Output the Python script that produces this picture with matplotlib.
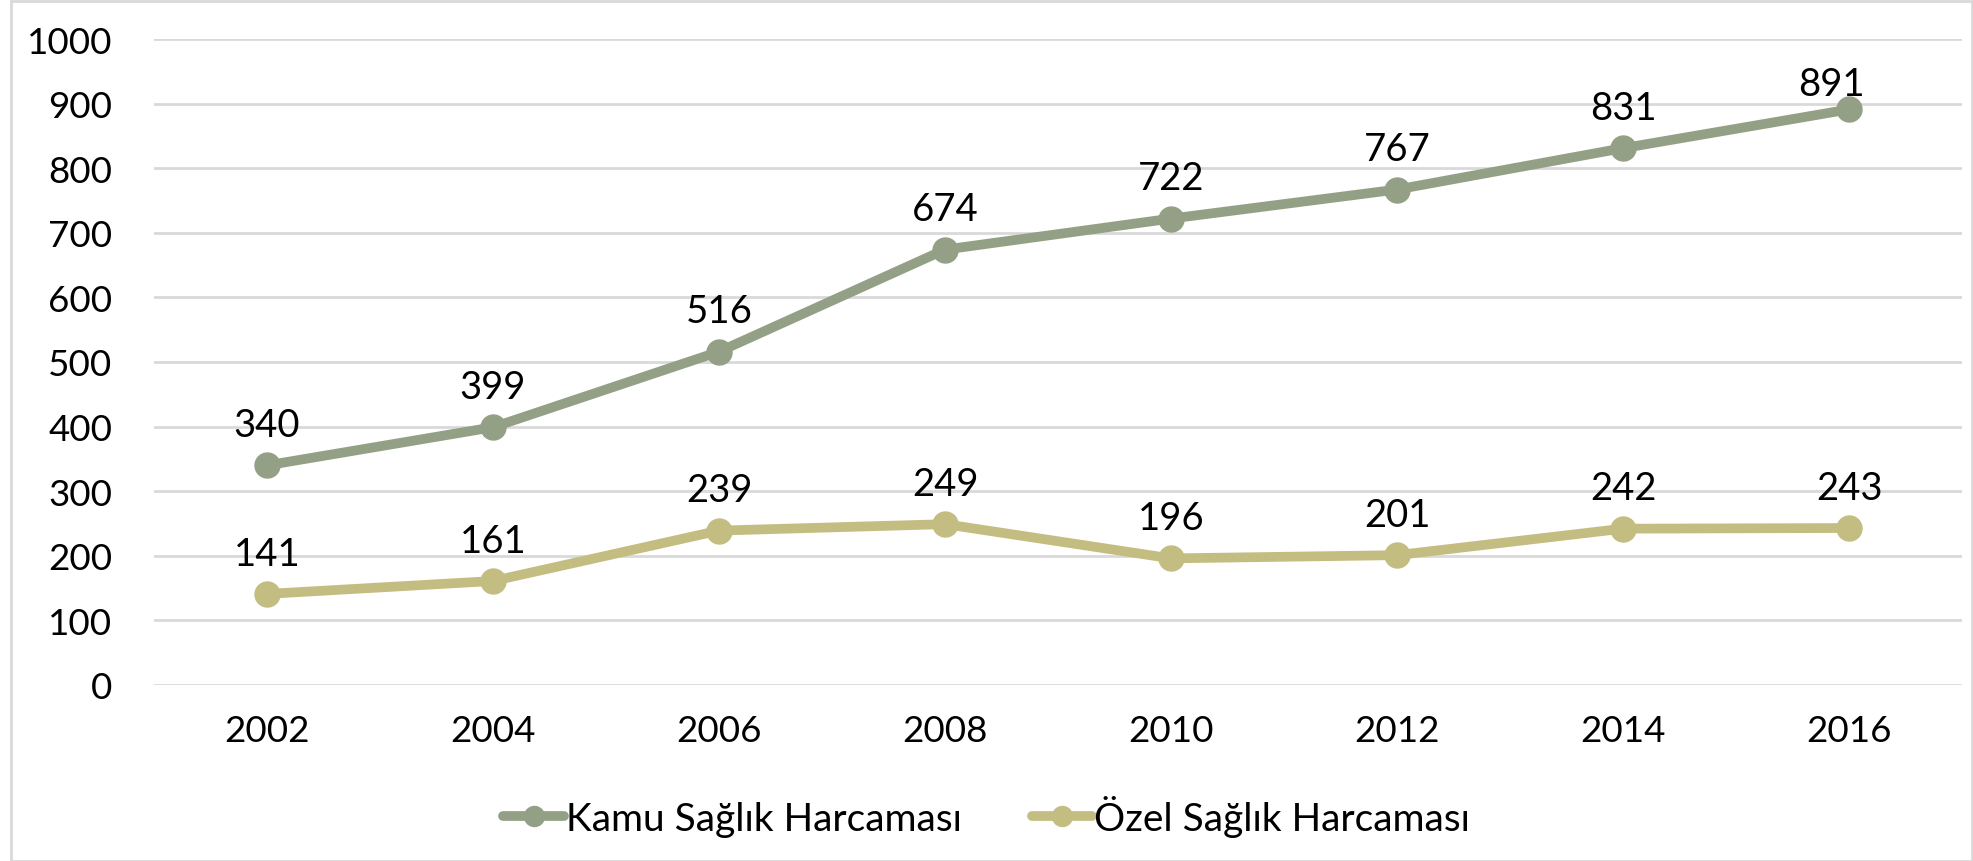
import matplotlib.pyplot as plt
from matplotlib.patches import Rectangle

years = ["2002", "2004", "2006", "2008", "2010", "2012", "2014", "2016"]
kamu = [340, 399, 516, 674, 722, 767, 831, 891]
ozel = [141, 161, 239, 249, 196, 201, 242, 243]
yticks = [0, 100, 200, 300, 400, 500, 600, 700, 800, 900, 1000]

KAMU_COLOR = "#94A086"
OZEL_COLOR = "#C4BD82"

plt.rcParams["font.family"] = ["Lato", "DejaVu Sans"]

fig = plt.figure(figsize=(19.73, 8.62), dpi=100)
ax = fig.add_axes([154 / 1973, 1 - 686 / 862, (1962 - 154) / 1973, (686 - 40) / 862])

x = list(range(len(years)))
ax.plot(x, kamu, "-o", color=KAMU_COLOR, lw=7, ms=18, label="Kamu Sağlık Harcaması",
        solid_capstyle="round", zorder=3)
ax.plot(x, ozel, "-o", color=OZEL_COLOR, lw=7, ms=18, label="Özel Sağlık Harcaması",
        solid_capstyle="round", zorder=3)

# data labels above points
for series in (kamu, ozel):
    for i, v in enumerate(series):
        dx, dy = 0, 29
        if v > 880:
            dx, dy = -13, 18
        ax.annotate(str(v), (i, v), xytext=(dx, dy), textcoords="offset points",
                    ha="center", va="center", fontsize=27.5, color="black")

ax.set_xlim(-0.5, len(years) - 0.5)
ax.set_ylim(0, 1000)
ax.set_yticks(yticks)
ax.set_xticks(x)
ax.set_xticklabels(years)
ax.tick_params(axis="both", length=0, labelsize=26.5, colors="black")
ax.tick_params(axis="y", pad=30)
ax.tick_params(axis="x", pad=21)
ax.grid(axis="y", color="#D9D9D9", lw=2)
ax.set_axisbelow(True)
for s in ax.spines.values():
    s.set_visible(False)

fig.legend(loc="center", bbox_to_anchor=(0.5, 1 - 817 / 862), ncol=2, frameon=False,
           fontsize=28, handlelength=1.55, handletextpad=0.05, columnspacing=1.8,
           markerscale=0.8)

fig.patches.append(Rectangle((11 / 1973, 0), 1 - 12 / 1973, 1 - 2 / 862,
                             transform=fig.transFigure, fill=False,
                             edgecolor="#D9D9D9", lw=2))

fig.savefig("out.png", dpi=100)
